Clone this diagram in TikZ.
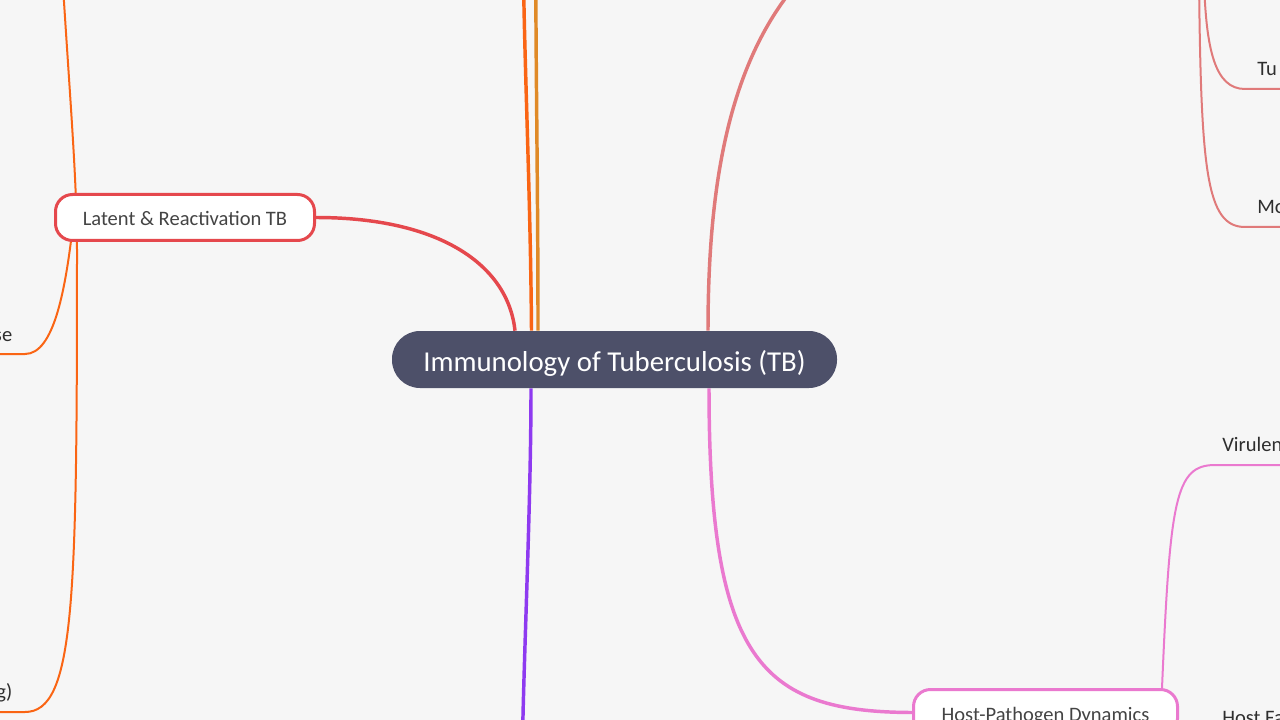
\documentclass[tikz,border=0pt]{standalone}
\usepackage{fontspec}
\setmainfont{Carlito}
\usetikzlibrary{calc}
\pgfdeclarelayer{bg}
\pgfsetlayers{bg,main}
\definecolor{bgc}{HTML}{F6F6F6}
\definecolor{cen}{HTML}{4D5069}
\definecolor{redc}{HTML}{E5484D}
\definecolor{orc}{HTML}{FA6514}
\definecolor{amc}{HTML}{E08A27}
\definecolor{salc}{HTML}{E07A7A}
\definecolor{purc}{HTML}{8E3AF0}
\definecolor{pinc}{HTML}{EA79CF}
\definecolor{txt}{HTML}{2E2E2E}
\definecolor{ntxt}{HTML}{444444}
\begin{document}
\begin{tikzpicture}[x=0.75pt,y=-0.75pt,
  mainline/.style={line width=2.6pt},
  subline/.style={line width=1.5pt},
  box/.style={draw,fill=white,line width=2.25pt,rounded corners=12.75pt,
    minimum height=34.5pt,inner sep=0pt,text=ntxt,
    font=\fontsize{15.4}{18}\selectfont,text height=12.75pt,text depth=0pt},
  lbl/.style={text=txt,font=\fontsize{15.4}{18}\selectfont,inner sep=0pt},
  ]
\useasboundingbox (0,0) rectangle (1280,720);
\begin{pgfonlayer}{bg}
\fill[bgc] (0,0) rectangle (1280,720);
\end{pgfonlayer}
\begin{scope}
\clip (0,0) rectangle (1280,720);
% nodes
\node[fill=cen,rounded corners=21pt,minimum width=333.75pt,minimum height=42.75pt,
  inner sep=0pt,text=white,font=\fontsize{21.6}{26}\selectfont,
  text height=17.25pt,text depth=0pt] (c) at (614.5,359.5) {Immunology of Tuberculosis (TB)};
\node[box,draw=redc,minimum width=194.25pt] (l) at (185,217.5) {Latent \& Reactivation TB};
\node[box,draw=pinc,minimum width=198pt] (h) at (1045.5,712.5) {Host-Pathogen Dynamics};
% labels
\node[lbl,anchor=base east] (se) at (12.5,341) {se};
\node[lbl,anchor=base east] (gp) at (12.5,698) {g)};
\node[lbl,anchor=base west] (tu) at (1257,76) {Tu};
\node[lbl,anchor=base west] (mo) at (1257,214) {Mo};
\node[lbl,anchor=base west] (vi) at (1222,451) {Virulen};
\node[lbl,anchor=base west] (hf) at (1222,724) {Host Fa};
% free ends
\coordinate (oTop) at (523.5,-20);
\coordinate (aTop) at (535.8,-20);
\coordinate (pBot) at (522.5,740);
\coordinate (sTop) at (800,-20);
\coordinate (loTop) at (62,-30);
\coordinate (seEnd) at (-5,354);
\coordinate (gEnd) at (-5,712);
\coordinate (r1Top) at (1204,-20);
\coordinate (r2Top) at (1199,-20);
\coordinate (tuEnd) at (1290,89);
\coordinate (moEnd) at (1290,227);
\coordinate (viEnd) at (1290,465);
\end{scope}
\begin{pgfonlayer}{bg}
\clip (0,0) rectangle (1280,720);
% main branches
\draw[mainline,redc] (l.east) .. controls (440,217.5) and (508,265) .. ($(c.north)+(-99.5,0)$);
\draw[mainline,orc] ($(c.north)+(-83,0)$) .. controls (530.5,200) and (525,80) .. (oTop);
\draw[mainline,amc] ($(c.north)+(-76.5,0)$) .. controls (538,200) and (536,80) .. (aTop);
\draw[mainline,purc] ($(c.south)+(-83.5,0)$) .. controls (531,500) and (524,650) .. (pBot);
\draw[mainline,salc] ($(c.north)+(93.5,0)$) .. controls (708,180) and (730,60) .. (sTop);
\draw[mainline,pinc] ($(c.south)+(94.5,0)$) .. controls (709,660) and (760,712) .. (h.west);
% left orange sub-branches
\draw[subline,orc] (loTop) .. controls (70,100) and (77,180) .. (77,250)
  .. controls (77,600) and (75,712) .. (25,712) -- (gEnd);
\draw[subline,orc] (74,215) .. controls (66,290) and (54,354) .. (25,354) -- (seEnd);
% right salmon sub-branches
\draw[subline,salc] (r1Top) .. controls (1206,50) and (1215,89) .. (1245,89) -- (tuEnd);
\draw[subline,salc] (r2Top) .. controls (1201,170) and (1206,227) .. (1245,227) -- (moEnd);
% pink sub-branch
\draw[subline,pinc] ($(h.north)+(116.5,0)$) .. controls (1170,500) and (1175,465) .. (1215,465) -- (viEnd);
\end{pgfonlayer}
\end{tikzpicture}
\end{document}
